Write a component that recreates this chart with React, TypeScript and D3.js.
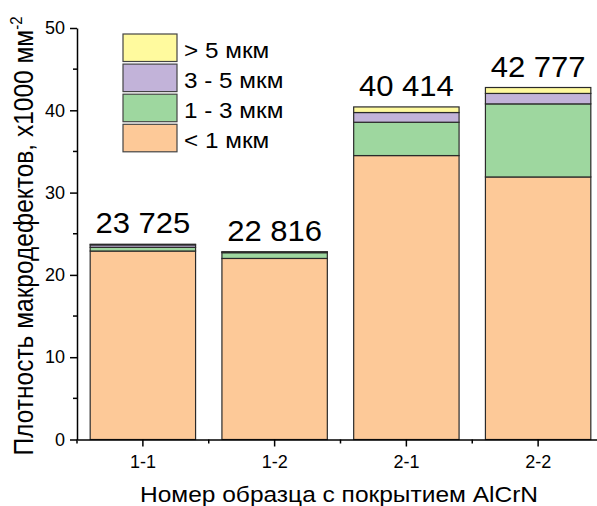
import React, { useEffect, useRef } from 'react';
import * as d3 from 'd3';

const samples = ['1-1', '1-2', '2-1', '2-2'];
const totalLabels = ['23 725', '22 816', '40 414', '42 777'];
// density by defect size, x1000 mm^-2
const under1 = [22.9, 22.0, 34.5, 31.9];
const from1to3 = [0.45, 0.7, 4.05, 8.88];
const from3to5 = [0.3, 0.08, 1.18, 1.27];
const over5 = [0.075, 0.036, 0.68, 0.72];

const seriesKeys = ['under1', 'from1to3', 'from3to5', 'over5'];
const seriesNames = ['< 1 мкм', '1 - 3 мкм', '3 - 5 мкм', '> 5 мкм'];
const seriesColors = ['#FDC998', '#9ED79F', '#C2B3D9', '#FFFA9E'];
const yTicks = [0, 10, 20, 30, 40, 50];
const yMinorTicks = [5, 15, 25, 35, 45];

const W = 597;
const H = 506;
const FONT = '"Liberation Sans", Arial, sans-serif';

export default function App() {
  const svgRef = useRef<SVGSVGElement>(null);

  useEffect(() => {
    if (!svgRef.current) return;
    const svg = d3.select(svgRef.current);
    svg.selectAll('*').remove();

    const rows = samples.map((s, i) => ({
      sample: s,
      under1: under1[i],
      from1to3: from1to3[i],
      from3to5: from3to5[i],
      over5: over5[i],
    }));

    const x = d3.scaleBand().domain(samples).range([77, 604]).paddingInner(0.2).paddingOuter(0.1);
    const y = d3.scaleLinear().domain([0, 50]).range([439.5, 28]);

    const stack = d3.stack<any>().keys(seriesKeys)(rows);

    // bars
    stack.forEach((layer, li) => {
      svg.append('g')
        .selectAll('rect')
        .data(layer)
        .join('rect')
        .attr('x', (d: any) => x(d.data.sample)!)
        .attr('y', d => y(d[1]))
        .attr('width', x.bandwidth())
        .attr('height', d => y(d[0]) - y(d[1]))
        .attr('fill', seriesColors[li])
        .attr('stroke', '#2a2a2a')
        .attr('stroke-width', 1.2);
    });

    // totals above bars (text in the source is a bit wider than Liberation Sans)
    svg.append('g')
      .selectAll('text')
      .data(rows)
      .join('text')
      .attr('transform', (d, i) =>
        `translate(${x(d.sample)! + x.bandwidth() / 2},${y(stack[3][i][1]) - 11}) scale(1.07,1)`)
      .attr('text-anchor', 'middle')
      .attr('font-family', FONT)
      .attr('font-size', 29)
      .attr('fill', '#000')
      .text((d, i) => totalLabels[i]);

    // y axis
    const yAxis = svg.append('g')
      .attr('transform', 'translate(77,0)')
      .call(d3.axisLeft(y).tickValues(yTicks).tickSize(7).tickSizeOuter(0).tickPadding(5));
    yAxis.append('g')
      .selectAll('line')
      .data(yMinorTicks)
      .join('line')
      .attr('x1', -4)
      .attr('x2', 0)
      .attr('y1', d => y(d))
      .attr('y2', d => y(d));

    // x axis
    const xAxis = svg.append('g')
      .attr('transform', 'translate(0,439.5)')
      .call(d3.axisBottom(x).tickSize(7).tickSizeOuter(0).tickPadding(9));
    const step = x.step();
    xAxis.append('g')
      .selectAll('line')
      .data(d3.range(samples.length + 1))
      .join('line')
      .attr('x1', i => 77 + i * step)
      .attr('x2', i => 77 + i * step)
      .attr('y1', 0)
      .attr('y2', 4);

    svg.selectAll('.domain, .tick line').attr('stroke', '#000').attr('stroke-width', 1.5);
    xAxis.selectAll('g line').attr('stroke', '#000').attr('stroke-width', 1.5);
    yAxis.selectAll('g line').attr('stroke', '#000').attr('stroke-width', 1.5);
    svg.selectAll('.tick text')
      .attr('font-family', FONT)
      .attr('font-size', 18)
      .attr('fill', '#000');

    // axis titles
    svg.append('text')
      .attr('transform', 'translate(339,501.5) scale(1.14,1)')
      .attr('text-anchor', 'middle')
      .attr('font-family', FONT)
      .attr('font-size', 21.5)
      .attr('fill', '#000')
      .text('Номер образца с покрытием AlCrN');

    const yTitle = svg.append('text')
      .attr('transform', 'translate(33,236) scale(1.1,1) rotate(-90)')
      .attr('text-anchor', 'middle')
      .attr('font-family', FONT)
      .attr('font-size', 24.5)
      .attr('fill', '#000');
    yTitle.append('tspan').text('Плотность макродефектов, x1000 мм');
    yTitle.append('tspan').attr('dy', -10).attr('font-size', 15).text('-2');

    // legend, top item first
    const legend = svg.append('g');
    const order = [3, 2, 1, 0];
    order.forEach((si, row) => {
      const top = 34 + row * 30.1;
      legend.append('rect')
        .attr('x', 123)
        .attr('y', top)
        .attr('width', 54)
        .attr('height', 27.5)
        .attr('fill', seriesColors[si])
        .attr('stroke', '#444')
        .attr('stroke-width', 1.2);
      legend.append('text')
        .attr('transform', `translate(184,${top + 24}) scale(1.13,1)`)
        .attr('font-family', FONT)
        .attr('font-size', 21.5)
        .attr('fill', '#000')
        .text(seriesNames[si]);
    });
  }, []);

  return (
    <svg
      ref={svgRef}
      width={W}
      height={H}
      style={{ position: 'absolute', left: 0, top: 0, background: '#fff', display: 'block' }}
    />
  );
}
